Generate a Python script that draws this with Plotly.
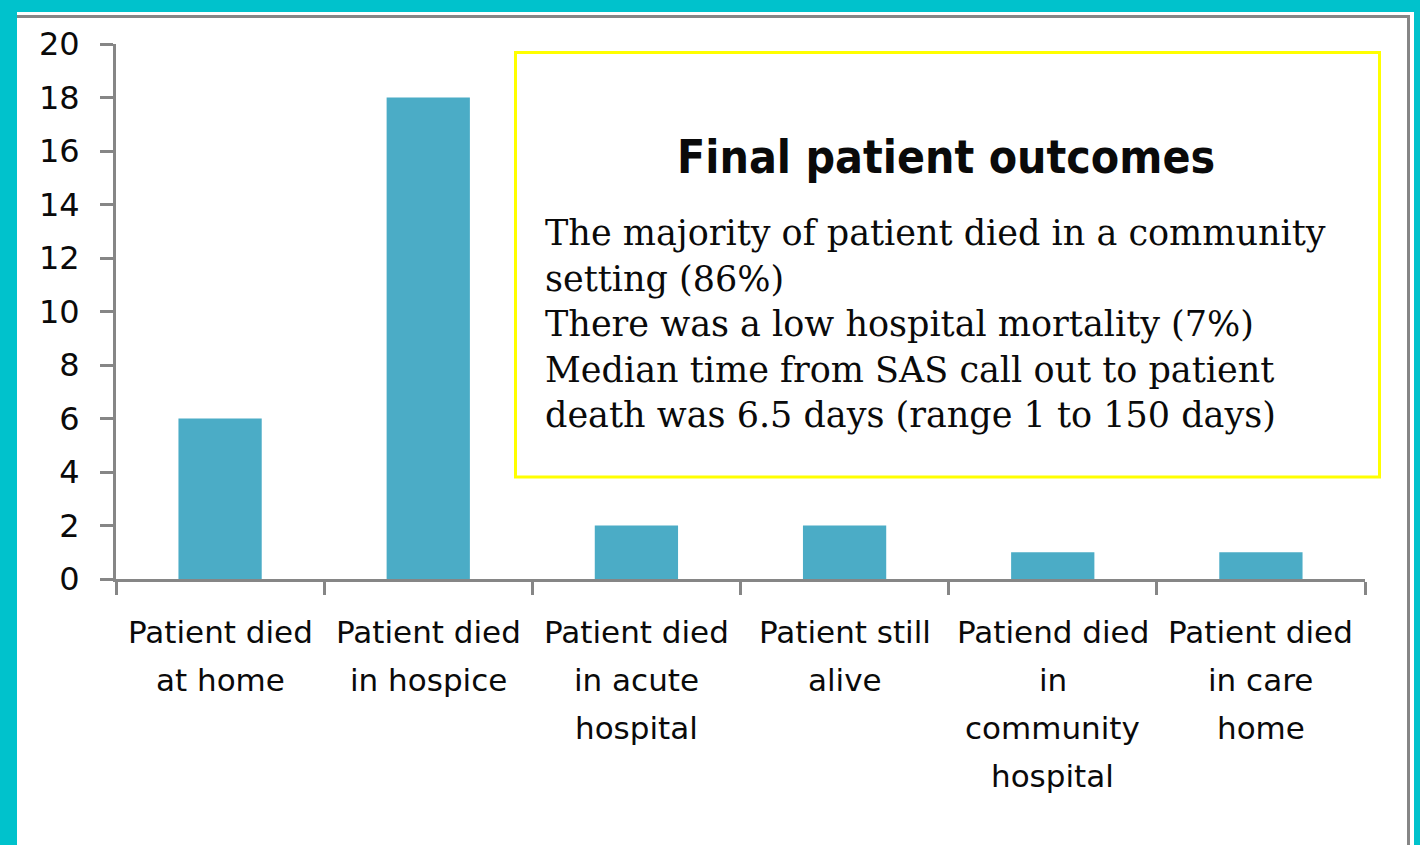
import plotly.graph_objects as go

# ---- data ----
categories = [
    "Patient died at home",
    "Patient died in hospice",
    "Patient died in acute hospital",
    "Patient still alive",
    "Patiend died in community hospital",
    "Patient died in care home",
]
label_lines = [
    ["Patient died", "at home"],
    ["Patient died", "in hospice"],
    ["Patient died", "in acute", "hospital"],
    ["Patient still", "alive"],
    ["Patiend died", "in", "community", "hospital"],
    ["Patient died", "in care", "home"],
]
counts = [6, 18, 2, 2, 1, 1]
y_ticks = [0, 2, 4, 6, 8, 10, 12, 14, 16, 18, 20]

box_title = "Final patient outcomes"
box_lines = [
    "The majority of patient died in a community",
    "setting (86%)",
    "There was a low hospital mortality (7%)",
    "Median time from SAS call out to patient",
    "death was 6.5 days (range 1 to 150 days)",
]

# ---- layout helpers (pixel -> paper fraction) ----
W, H = 1420, 845
def px(x):
    return x / W
def py(y):
    return 1 - y / H

CYAN = "#00C2CC"
BAR = "#4BACC6"
AXIS = "#868686"

fig = go.Figure()
fig.add_trace(go.Bar(x=categories, y=counts, marker=dict(color=BAR, line=dict(width=0)),
                     showlegend=False, hoverinfo="x+y"))

P = dict(xref="paper", yref="paper")
shapes = [
    # cyan page border
    dict(type="rect", x0=0, x1=1, y0=py(12), y1=1, fillcolor=CYAN, line_width=0, layer="below", **P),
    dict(type="rect", x0=0, x1=px(17), y0=0, y1=1, fillcolor=CYAN, line_width=0, layer="below", **P),
    dict(type="rect", x0=px(1414), x1=1, y0=0, y1=1, fillcolor=CYAN, line_width=0, layer="below", **P),
    # gray chart frame
    dict(type="line", x0=px(17), x1=px(1410), y0=py(16.5), y1=py(16.5), line=dict(color=AXIS, width=3), **P),
    dict(type="line", x0=px(1408.5), x1=px(1408.5), y0=py(15), y1=0, line=dict(color=AXIS, width=3), **P),
    # yellow text box
    dict(type="rect", x0=px(515.5), x1=px(1379.5), y0=py(477), y1=py(52.5), line=dict(color="#FFFF00", width=3),
         fillcolor="rgba(0,0,0,0)", **P),
]

annotations = []
line_y = [632, 680, 728, 776]
for cat, lines in zip(categories, label_lines):
    for i, t in enumerate(lines):
        annotations.append(dict(x=cat, xref="x", y=py(line_y[i]), yref="paper", text=t, showarrow=False,
                                xanchor="center", yanchor="middle",
                                font=dict(family="DejaVu Sans", size=31, color="#0a0a0a")))

annotations.append(dict(x=px(946), y=py(157), xref="paper", yref="paper", text="<b>" + box_title + "</b>",
                        showarrow=False, xanchor="center", yanchor="middle",
                        font=dict(family="DejaVu Sans Condensed, Liberation Sans", size=46, color="#0a0a0a")))
annotations.append(dict(x=px(543), y=py(324), xref="paper", yref="paper", text="<br>".join(box_lines),
                        showarrow=False, xanchor="left", yanchor="middle", align="left",
                        font=dict(family="DejaVu Serif", size=35, color="#0a0a0a")))

fig.update_layout(
    template="none",
    width=W, height=H,
    margin=dict(l=0, r=0, t=0, b=0, autoexpand=False),
    paper_bgcolor="white", plot_bgcolor="white",
    bargap=0.6,
    shapes=shapes,
    annotations=annotations,
    xaxis=dict(domain=[px(116), px(1365)], type="category", showgrid=False, zeroline=False,
               showline=True, linecolor=AXIS, linewidth=3,
               ticks="outside", tickson="boundaries", ticklen=13, tickwidth=3, tickcolor=AXIS,
               showticklabels=False, automargin=False),
    yaxis=dict(domain=[py(579), py(44)], range=[0, 20], tickvals=y_ticks, showgrid=False, zeroline=False,
               showline=True, linecolor=AXIS, linewidth=3,
               ticks="outside", ticklen=13, tickwidth=3, tickcolor=AXIS,
               ticklabelstandoff=14,
               tickfont=dict(family="DejaVu Sans", size=32, color="#0a0a0a"), automargin=False),
)

fig.write_html("out.html", config={"displayModeBar": False},
               post_script="document.body.style.margin='0';document.body.style.overflow='hidden';")
